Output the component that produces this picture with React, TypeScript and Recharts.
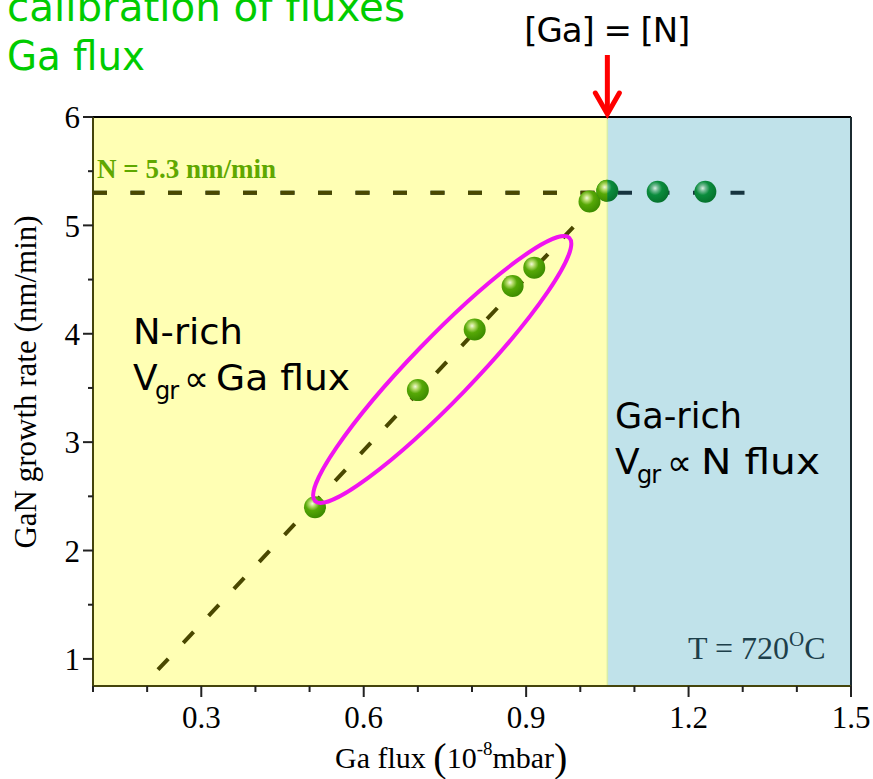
import React from "react";
import {
  ScatterChart,
  Scatter,
  XAxis,
  YAxis,
  ReferenceArea,
  ReferenceLine,
  ReferenceDot,
} from "recharts";

// measured growth rate vs Ga flux
const nRichFlux = [0.51, 0.7, 0.805, 0.875, 0.915, 1.017];
const nRichRate = [2.4, 3.48, 4.04, 4.44, 4.61, 5.22];
const gaRichFlux = [1.05, 1.143, 1.231];
const gaRichRate = [5.32, 5.31, 5.31];

const xTicks = [0.1, 0.2, 0.3, 0.4, 0.5, 0.6, 0.7, 0.8, 0.9, 1.0, 1.1, 1.2, 1.3, 1.4, 1.5];
const yTicks = [1, 1.5, 2, 2.5, 3, 3.5, 4, 4.5, 5, 5.5, 6];

const stoichFlux = 1.05; // [Ga] = [N]
const nLimitedRate = 5.3;
const fitStart = { x: 0.22, y: 0.9 };
const fitEnd = { x: 1.05, y: 5.32 };
const plateauEnd = 1.313;
const ellipseCenter = { x: 0.745, y: 3.67 };

const serif = '"Liberation Serif", "Times New Roman", serif';
const comic = '"Comic Sans MS", "DejaVu Sans", sans-serif';

const nRich = nRichFlux.map((x, i) => ({ x, y: nRichRate[i] }));
const gaRich = gaRichFlux.map((x, i) => ({ x, y: gaRichRate[i] }));

const isMajorX = (v: number) => Math.abs(v / 0.3 - Math.round(v / 0.3)) < 1e-6;

function XTick({ x, y, payload }: any) {
  const major = isMajorX(payload.value);
  return (
    <g>
      <line x1={x} x2={x} y1={y} y2={y + (major ? 11 : 6)} stroke="#222" strokeWidth={2} />
      {major && (
        <text x={x} y={y + 42} textAnchor="middle" fontFamily={serif} fontSize={31} fill="#000">
          {payload.value.toFixed(1)}
        </text>
      )}
    </g>
  );
}

function YTick({ x, y, payload }: any) {
  const major = Number.isInteger(payload.value);
  return (
    <g>
      <line x1={x - (major ? 10 : 5)} x2={x} y1={y} y2={y} stroke="#222" strokeWidth={2} />
      {major && (
        <text x={x - 13} y={y} dy="0.36em" textAnchor="end" fontFamily={serif} fontSize={31} fill="#000">
          {payload.value}
        </text>
      )}
    </g>
  );
}

function Ball(props: any) {
  const { cx, cy, payload, light } = props;
  if (light) return <circle cx={cx} cy={cy} r={11} fill="url(#ballLight)" />;
  if (payload && payload.x === stoichFlux) {
    return (
      <g>
        <circle cx={cx} cy={cy} r={11} fill="url(#ballDark)" />
        <clipPath id="halfLeft">
          <rect x={cx - 12} y={cy - 12} width={12} height={24} />
        </clipPath>
        <circle cx={cx} cy={cy} r={11} fill="url(#ballLight)" clipPath="url(#halfLeft)" />
      </g>
    );
  }
  return <circle cx={cx} cy={cy} r={11} fill="url(#ballDark)" />;
}

export default function App() {
  return (
    <div style={{ position: "absolute", left: 0, top: 0, width: 873, height: 779, background: "#fff" }}>
      <svg width={0} height={0} style={{ position: "absolute" }}>
        <defs>
          <radialGradient id="ballLight" cx="38%" cy="34%" r="66%">
            <stop offset="0%" stopColor="#f2f9dc" />
            <stop offset="20%" stopColor="#b6db6c" />
            <stop offset="48%" stopColor="#56a806" />
            <stop offset="100%" stopColor="#3d8c00" />
          </radialGradient>
          <radialGradient id="ballDark" cx="38%" cy="34%" r="66%">
            <stop offset="0%" stopColor="#d9efe2" />
            <stop offset="20%" stopColor="#74bb95" />
            <stop offset="48%" stopColor="#0b8c3d" />
            <stop offset="100%" stopColor="#06732e" />
          </radialGradient>
        </defs>
      </svg>
      <ScatterChart width={873} height={779} margin={{ top: 117, right: 22, bottom: 0, left: 0 }}>
        <ReferenceArea x1={0.1} x2={stoichFlux} y1={0.75} y2={6} fill="#FFFFB4" fillOpacity={1} stroke="none" />
        <ReferenceArea x1={stoichFlux} x2={1.5} y1={0.75} y2={6} fill="#C0E2EA" fillOpacity={1} stroke="none" />
        <ReferenceLine x={stoichFlux} stroke="#d6ecaa" strokeWidth={1.5} />
        <XAxis
          type="number"
          dataKey="x"
          domain={[0.1, 1.5]}
          ticks={xTicks}
          interval={0}
          height={93}
          tickSize={0}
          tickMargin={0}
          tickLine={false}
          tick={<XTick />}
          axisLine={{ stroke: "#45450c", strokeWidth: 2 }}
          allowDataOverflow
        />
        <YAxis
          type="number"
          dataKey="y"
          domain={[0.75, 6]}
          ticks={yTicks}
          interval={0}
          width={93}
          tickSize={0}
          tickMargin={0}
          tickLine={false}
          tick={<YTick />}
          axisLine={{ stroke: "#45450c", strokeWidth: 2 }}
          allowDataOverflow
        />
        <ReferenceLine y={6} stroke="#000" strokeWidth={2} />
        <ReferenceLine x={1.5} stroke="#1b2a30" strokeWidth={2} />
        <Scatter data={nRich} isAnimationActive={false} shape={(p: any) => <Ball {...p} light />} />
        <Scatter data={gaRich} isAnimationActive={false} shape={(p: any) => <Ball {...p} />} />
        <ReferenceLine
          segment={[fitStart, fitEnd]}
          stroke="#4a4800"
          strokeWidth={4}
          strokeDasharray="15 22"
        />
        <ReferenceLine
          segment={[{ x: 0.1, y: nLimitedRate }, { x: plateauEnd, y: nLimitedRate }]}
          stroke="#17343f"
          strokeWidth={4}
          strokeDasharray="14 23.5"
        />
        <ReferenceLine
          segment={[{ x: 0.1, y: nLimitedRate }, { x: stoichFlux, y: nLimitedRate }]}
          stroke="#4a4800"
          strokeWidth={4}
          strokeDasharray="14 23.5"
        />
        <ReferenceDot
          x={ellipseCenter.x}
          y={ellipseCenter.y}
          shape={(p: any) => (
            <ellipse
              cx={p.cx}
              cy={p.cy}
              rx={183}
              ry={31}
              transform={`rotate(-46 ${p.cx} ${p.cy})`}
              fill="none"
              stroke="#F014F0"
              strokeWidth={4}
            />
          )}
        />
        <ReferenceDot
          x={0.1}
          y={nLimitedRate}
          shape={(p: any) => (
            <text x={p.cx + 4} y={p.cy - 15} fontFamily={serif} fontWeight="bold" fontSize={27} fill="#5fa800">
              N = 5.3 nm/min
            </text>
          )}
        />
        <ReferenceDot
          x={stoichFlux}
          y={6}
          ifOverflow="visible"
          shape={(p: any) => (
            <g>
              <line x1={p.cx} x2={p.cx} y1={p.cy - 62} y2={p.cy - 4} stroke="#ff0000" strokeWidth={5} />
              <polyline
                points={`${p.cx - 12},${p.cy - 24} ${p.cx},${p.cy - 3} ${p.cx + 12},${p.cy - 24}`}
                fill="none"
                stroke="#ff0000"
                strokeWidth={5}
                strokeLinecap="round"
              />
              <text x={p.cx} y={p.cy - 75} textAnchor="middle" fontFamily={comic} fontSize={34} textLength={166} fill="#000">
                [Ga] = [N]
              </text>
            </g>
          )}
        />
      </ScatterChart>
      <svg
        width={873}
        height={779}
        style={{ position: "absolute", left: 0, top: 0, pointerEvents: "none" }}
      >
        <g fontFamily={comic} fill="#00CC00" fontSize={40}>
          <text x={7} y={21} textLength={398} lengthAdjust="spacingAndGlyphs">calibration of fluxes</text>
          <text x={7} y={70} textLength={138} lengthAdjust="spacingAndGlyphs">Ga flux</text>
        </g>
        <g fontFamily={comic} fill="#000" fontSize={36}>
          <text x={133} y={344} textLength={110} lengthAdjust="spacingAndGlyphs">N-rich</text>
          <text x={133} y={390}>V</text>
          <text x={155} y={399} fontSize={24} textLength={24}>gr</text>
          <text x={184} y={391} fontSize={36} textLength={25} lengthAdjust="spacingAndGlyphs">∝</text>
          <text x={216} y={390} textLength={134} lengthAdjust="spacingAndGlyphs">Ga flux</text>
          <text x={615} y={428} textLength={127} lengthAdjust="spacingAndGlyphs">Ga-rich</text>
          <text x={615} y={474}>V</text>
          <text x={637} y={483} fontSize={24} textLength={24}>gr</text>
          <text x={667} y={475} fontSize={36} textLength={25} lengthAdjust="spacingAndGlyphs">∝</text>
          <text x={701} y={474} textLength={119} lengthAdjust="spacingAndGlyphs">N flux</text>
        </g>
        <text x={688} y={659} fontFamily={serif} fontSize={32} fill="#1d3f4a">
          T = 720<tspan fontSize={21} dy={-13}>O</tspan>
          <tspan dy={13}>C</tspan>
        </text>
        <text
          x={36}
          y={382}
          transform="rotate(-90 36 382)"
          textAnchor="middle"
          fontFamily={serif}
          fontSize={31}
          fill="#000"
        >
          GaN growth rate (nm/min)
        </text>
        <text x={335} y={768} fontFamily={serif} fontSize={30} fill="#000">
          Ga flux <tspan fontSize={40} dy={3}>(</tspan>
          <tspan dy={-3}>10</tspan>
          <tspan fontSize={19} dy={-13}>-8</tspan>
          <tspan dy={13}>mbar</tspan>
          <tspan fontSize={40} dy={3}>)</tspan>
        </text>
      </svg>
    </div>
  );
}
